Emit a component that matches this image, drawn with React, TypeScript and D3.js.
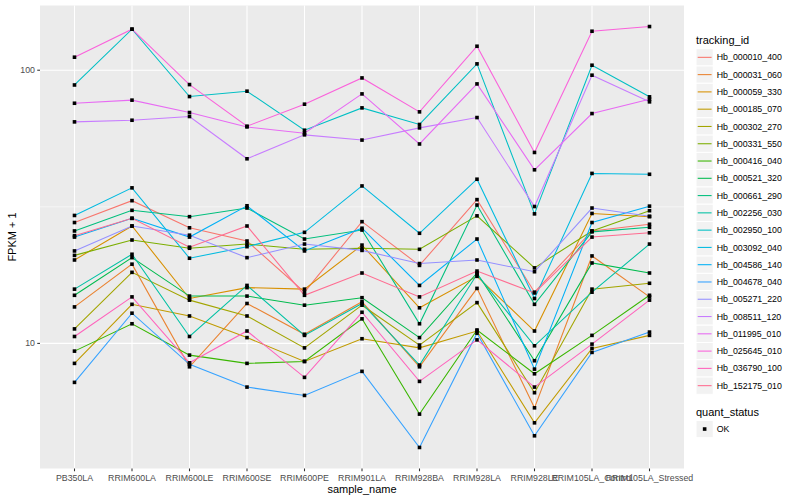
import { useEffect, useRef } from "react";
import * as d3 from "d3";

const SAMPLES = [
  "PB350LA",
  "RRIM600LA",
  "RRIM600LE",
  "RRIM600SE",
  "RRIM600PE",
  "RRIM901LA",
  "RRIM928BA",
  "RRIM928LA",
  "RRIM928LE",
  "RRIM105LA_Control",
  "RRIM105LA_Stressed",
];

const TRACKING_IDS = [
  "Hb_000010_400",
  "Hb_000031_060",
  "Hb_000059_330",
  "Hb_000185_070",
  "Hb_000302_270",
  "Hb_000331_550",
  "Hb_000416_040",
  "Hb_000521_320",
  "Hb_000661_290",
  "Hb_002256_030",
  "Hb_002950_100",
  "Hb_003092_040",
  "Hb_004586_140",
  "Hb_004678_040",
  "Hb_005271_220",
  "Hb_008511_120",
  "Hb_011995_010",
  "Hb_025645_010",
  "Hb_036790_100",
  "Hb_152175_010",
];

// ggplot hue palette, 20 levels
const COLORS = [
  "#F8766D", "#EA8331", "#D89000", "#C09B00", "#A3A500",
  "#7CAE00", "#39B600", "#00BB4E", "#00BF7D", "#00C1A3",
  "#00BFC4", "#00BAE0", "#00B0F6", "#35A2FF", "#9590FF",
  "#C77CFF", "#E76BF3", "#FA62DB", "#FF62BC", "#FF6C91",
];

// FPKM + 1, one value per sample
const HB_000010_400 = [27.7, 33.3, 26.5, 23.7, 15.4, 27.9, 19.3, 33.6, 15.4, 25.8, 27.3];
const HB_000031_060 = [13.6, 19.5, 8.21, 14.0, 10.8, 14.2, 8.21, 15.9, 5.81, 20.9, 14.8];
const HB_000059_330 = [20.2, 26.9, 14.6, 16.0, 15.8, 22.9, 13.5, 17.6, 11.1, 29.9, 29.1];
const HB_000185_070 = [8.45, 13.9, 12.6, 10.5, 8.59, 10.4, 9.63, 11.1, 5.12, 9.59, 10.7];
const HB_000302_270 = [11.3, 18.2, 14.4, 12.6, 9.63, 13.8, 9.86, 14.1, 6.6, 15.8, 16.6];
const HB_000331_550 = [21.0, 23.9, 22.3, 23.1, 22.1, 22.3, 22.1, 29.3, 18.9, 25.8, 30.6];
const HB_000416_040 = [9.37, 11.8, 9.06, 8.45, 8.59, 12.3, 5.51, 11.2, 7.74, 10.7, 15.0];
const HB_000521_320 = [15.0, 20.6, 14.9, 14.9, 13.8, 14.7, 10.5, 18.1, 8.64, 19.7, 18.1];
const HB_000661_290 = [25.8, 30.7, 29.1, 31.3, 24.1, 26.0, 11.8, 32.1, 13.9, 25.6, 26.6];
const HB_002256_030 = [15.8, 21.2, 10.6, 16.3, 10.7, 14.0, 8.33, 17.9, 9.8, 15.4, 23.1];
const HB_002950_100 = [88.3, 141.3, 80.1, 83.8, 60.3, 72.8, 63.3, 105.5, 29.8, 104.3, 79.9];
const HB_003092_040 = [29.4, 37.1, 20.5, 22.6, 25.5, 37.7, 25.3, 39.9, 14.6, 41.9, 41.6];
const HB_004586_140 = [24.5, 28.7, 24.5, 31.9, 21.8, 26.4, 16.3, 24.1, 8.05, 27.7, 31.8];
const HB_004678_040 = [7.2, 12.9, 8.38, 6.92, 6.45, 7.9, 4.16, 10.9, 4.59, 9.27, 11.0];
const HB_005271_220 = [21.8, 26.9, 24.9, 20.6, 23.1, 21.9, 19.6, 20.2, 18.3, 31.3, 29.2];
const HB_008511_120 = [64.7, 65.6, 67.7, 47.4, 58.0, 55.5, 61.5, 67.1, 31.7, 95.9, 76.6];
const HB_011995_010 = [75.7, 77.7, 70.0, 62.0, 58.8, 81.9, 53.7, 89.1, 43.2, 69.4, 78.3];
const HB_025645_010 = [111.6, 141.3, 88.6, 62.4, 75.1, 93.7, 70.4, 122.4, 50.0, 138.9, 144.5];
const HB_036790_100 = [10.6, 14.8, 8.49, 11.1, 7.51, 13.0, 7.26, 10.3, 6.92, 9.94, 14.4];
const HB_152175_010 = [24.8, 28.7, 22.5, 26.9, 15.0, 18.1, 14.8, 18.4, 15.3, 24.5, 25.4];

const SERIES_VALUES = [
  HB_000010_400, HB_000031_060, HB_000059_330, HB_000185_070, HB_000302_270,
  HB_000331_550, HB_000416_040, HB_000521_320, HB_000661_290, HB_002256_030,
  HB_002950_100, HB_003092_040, HB_004586_140, HB_004678_040, HB_005271_220,
  HB_008511_120, HB_011995_010, HB_025645_010, HB_036790_100, HB_152175_010,
];

const Y_TICKS = [10, 100];
const QUANT_STATUS = ["OK"];

const WIDTH = 800;
const HEIGHT = 500;
const PANEL = { left: 40, right: 684, top: 5.5, bottom: 468.5 };
const FONT = "'Liberation Sans', Arial, Helvetica, sans-serif";
const PANEL_BG = "#EBEBEB";
const KEY_BG = "#F2F2F2";

function renderChart(node: SVGSVGElement | null) {
  if (!node) return;
  const svg = d3.select(node);
  svg.selectAll("*").remove();

  svg.append("rect").attr("width", WIDTH).attr("height", HEIGHT).attr("fill", "#fff");

  const x = d3
    .scalePoint<string>()
    .domain(SAMPLES)
    .range([PANEL.left, PANEL.right])
    .padding(0.6);

  // log scale with ggplot's 5% expansion in log space
  const all = SERIES_VALUES.flat();
  const [lo, hi] = d3.extent(all) as [number, number];
  const llo = Math.log10(lo);
  const lhi = Math.log10(hi);
  const pad = (lhi - llo) * 0.05;
  const y = d3
    .scaleLog()
    .domain([Math.pow(10, llo - pad), Math.pow(10, lhi + pad)])
    .range([PANEL.bottom, PANEL.top]);

  // panel
  svg
    .append("rect")
    .attr("x", PANEL.left)
    .attr("y", PANEL.top)
    .attr("width", PANEL.right - PANEL.left)
    .attr("height", PANEL.bottom - PANEL.top)
    .attr("fill", PANEL_BG);

  const grid = svg.append("g");
  const minor = d3.pairs(Y_TICKS).map(([a, b]) => Math.sqrt(a * b));
  minor.forEach((v) => {
    grid
      .append("line")
      .attr("x1", PANEL.left)
      .attr("x2", PANEL.right)
      .attr("y1", y(v))
      .attr("y2", y(v))
      .attr("stroke", "#fff")
      .attr("stroke-width", 0.53);
  });
  Y_TICKS.forEach((v) => {
    grid
      .append("line")
      .attr("x1", PANEL.left)
      .attr("x2", PANEL.right)
      .attr("y1", y(v))
      .attr("y2", y(v))
      .attr("stroke", "#fff")
      .attr("stroke-width", 1.07);
  });
  SAMPLES.forEach((s) => {
    grid
      .append("line")
      .attr("x1", x(s)!)
      .attr("x2", x(s)!)
      .attr("y1", PANEL.top)
      .attr("y2", PANEL.bottom)
      .attr("stroke", "#fff")
      .attr("stroke-width", 1.07);
  });

  // lines
  const line = d3
    .line<number>()
    .x((_, i) => x(SAMPLES[i])!)
    .y((d) => y(d));

  SERIES_VALUES.forEach((vals, k) => {
    svg
      .append("path")
      .attr("d", line(vals)!)
      .attr("fill", "none")
      .attr("stroke", COLORS[k])
      .attr("stroke-width", 1.07);
  });

  // points (quant_status OK -> black square)
  const pts = svg.append("g");
  SERIES_VALUES.forEach((vals) => {
    vals.forEach((v, i) => {
      pts
        .append("rect")
        .attr("x", x(SAMPLES[i])! - 1.8)
        .attr("y", y(v) - 1.8)
        .attr("width", 3.6)
        .attr("height", 3.6)
        .attr("fill", "#000");
    });
  });

  // axes
  const axis = svg.append("g").style("font-family", FONT);
  Y_TICKS.forEach((v) => {
    axis
      .append("line")
      .attr("x1", PANEL.left - 2.75)
      .attr("x2", PANEL.left)
      .attr("y1", y(v))
      .attr("y2", y(v))
      .attr("stroke", "#333")
      .attr("stroke-width", 1.07);
    axis
      .append("text")
      .attr("x", PANEL.left - 5)
      .attr("y", y(v))
      .attr("dy", "0.35em")
      .attr("text-anchor", "end")
      .attr("font-size", 8.8)
      .attr("fill", "#4D4D4D")
      .text(String(v));
  });
  SAMPLES.forEach((s) => {
    axis
      .append("line")
      .attr("x1", x(s)!)
      .attr("x2", x(s)!)
      .attr("y1", PANEL.bottom)
      .attr("y2", PANEL.bottom + 2.75)
      .attr("stroke", "#333")
      .attr("stroke-width", 1.07);
    axis
      .append("text")
      .attr("x", x(s)!)
      .attr("y", PANEL.bottom + 12)
      .attr("text-anchor", "middle")
      .attr("font-size", 8.8)
      .attr("fill", "#4D4D4D")
      .text(s);
  });

  axis
    .append("text")
    .attr("x", (PANEL.left + PANEL.right) / 2)
    .attr("y", 493)
    .attr("text-anchor", "middle")
    .attr("font-size", 11)
    .attr("fill", "#000")
    .text("sample_name");

  axis
    .append("text")
    .attr("transform", `translate(16,${(PANEL.top + PANEL.bottom) / 2}) rotate(-90)`)
    .attr("text-anchor", "middle")
    .attr("font-size", 11)
    .attr("fill", "#000")
    .text("FPKM + 1");

  // legends
  const KEY = 17.28;
  const legX = 696;
  const leg = svg.append("g").style("font-family", FONT);
  leg
    .append("text")
    .attr("x", legX)
    .attr("y", 44)
    .attr("font-size", 11)
    .attr("fill", "#000")
    .text("tracking_id");

  const keyTop = 48.7;
  TRACKING_IDS.forEach((id, k) => {
    const ky = keyTop + k * KEY;
    leg
      .append("rect")
      .attr("x", legX)
      .attr("y", ky)
      .attr("width", KEY)
      .attr("height", KEY)
      .attr("fill", KEY_BG)
      .attr("stroke", "#fff")
      .attr("stroke-width", 1);
    leg
      .append("line")
      .attr("x1", legX + 1.7)
      .attr("x2", legX + KEY - 1.7)
      .attr("y1", ky + KEY / 2)
      .attr("y2", ky + KEY / 2)
      .attr("stroke", COLORS[k])
      .attr("stroke-width", 1.07);
    leg
      .append("text")
      .attr("x", legX + KEY + 3.5)
      .attr("y", ky + KEY / 2)
      .attr("dy", "0.35em")
      .attr("font-size", 8.8)
      .attr("fill", "#000")
      .text(id);
  });

  leg
    .append("text")
    .attr("x", legX)
    .attr("y", 416)
    .attr("font-size", 11)
    .attr("fill", "#000")
    .text("quant_status");

  QUANT_STATUS.forEach((q, k) => {
    const ky = 420.4 + k * KEY;
    leg
      .append("rect")
      .attr("x", legX)
      .attr("y", ky)
      .attr("width", KEY)
      .attr("height", KEY)
      .attr("fill", KEY_BG)
      .attr("stroke", "#fff")
      .attr("stroke-width", 1);
    leg
      .append("rect")
      .attr("x", legX + KEY / 2 - 1.8)
      .attr("y", ky + KEY / 2 - 1.8)
      .attr("width", 3.6)
      .attr("height", 3.6)
      .attr("fill", "#000");
    leg
      .append("text")
      .attr("x", legX + KEY + 3.5)
      .attr("y", ky + KEY / 2)
      .attr("dy", "0.35em")
      .attr("font-size", 8.8)
      .attr("fill", "#000")
      .text(q);
  });
}

export default function App() {
  const svgRef = useRef<SVGSVGElement>(null);

  useEffect(() => {
    renderChart(svgRef.current);
  }, []);

  return (
    <svg
      ref={svgRef}
      width={WIDTH}
      height={HEIGHT}
      viewBox={`0 0 ${WIDTH} ${HEIGHT}`}
      style={{ position: "absolute", left: 0, top: 0, display: "block" }}
    />
  );
}
